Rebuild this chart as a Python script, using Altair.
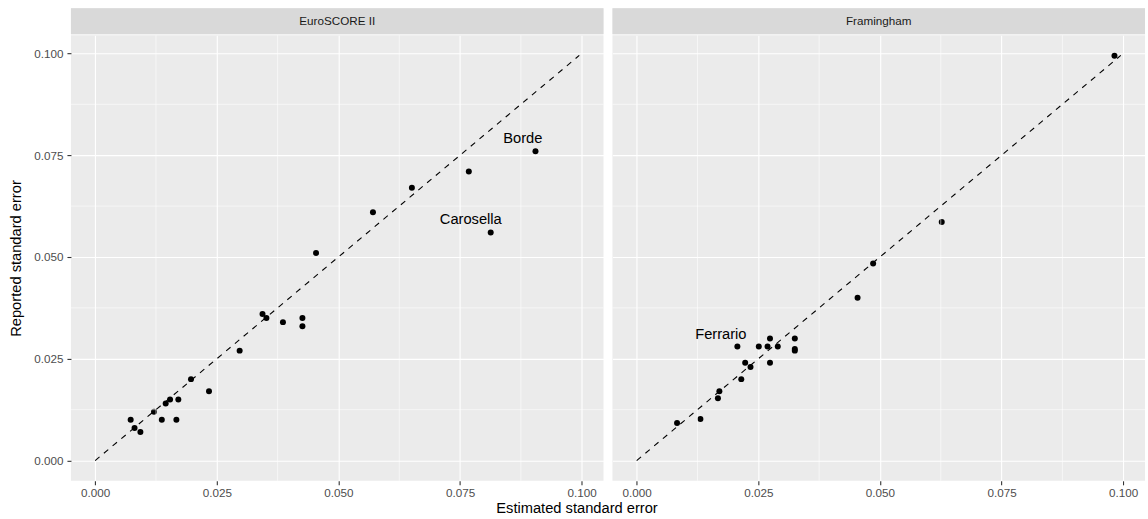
import altair as alt
import pandas as pd

# ---- data ----
euro_x = [0.0905, 0.0768, 0.0651, 0.0571, 0.0813, 0.0454,
          0.0073, 0.0081, 0.0093, 0.0121, 0.0137, 0.0145, 0.0154, 0.0171,
          0.0167, 0.0197, 0.0234, 0.0297, 0.0344, 0.0352, 0.0386, 0.0426, 0.0426]
euro_y = [0.076, 0.071, 0.067, 0.061, 0.056, 0.051,
          0.010, 0.008, 0.007, 0.012, 0.010, 0.014, 0.015, 0.015,
          0.010, 0.020, 0.017, 0.027, 0.036, 0.035, 0.034, 0.035, 0.033]

fram_x = [0.0982, 0.0627, 0.0486, 0.0454, 0.0207, 0.0251, 0.0269, 0.0274,
          0.0290, 0.0325, 0.0325, 0.0325, 0.0223, 0.0274, 0.0234, 0.0215,
          0.0170, 0.0167, 0.0083, 0.0131]
fram_y = [0.0994, 0.0586, 0.0484, 0.0400, 0.0280, 0.0280, 0.0280, 0.0300,
          0.0280, 0.0300, 0.0274, 0.0270, 0.0240, 0.0240, 0.0230, 0.0200,
          0.0170, 0.0153, 0.0092, 0.0102]

label_text = ["Borde", "Carosella", "Ferrario"]
label_panel = ["EuroSCORE II", "EuroSCORE II", "Framingham"]
label_x = [0.0879, 0.0772, 0.0173]
label_y = [0.0780, 0.0581, 0.0298]

line_x = [0.0, 0.0995]
line_y = [0.0, 0.0995]

panels = ["EuroSCORE II", "Framingham"]
major_ticks = [0.0, 0.025, 0.05, 0.075, 0.1]
minor_ticks = [0.0125, 0.0375, 0.0625, 0.0875]

# ---- styling ----
FONT = "Liberation Sans"
PW, PH, SH = 533, 446, 26
dom = [-0.004975, 0.104475]

pts = {"EuroSCORE II": pd.DataFrame({"x": euro_x, "y": euro_y}),
       "Framingham": pd.DataFrame({"x": fram_x, "y": fram_y})}
labels = pd.DataFrame({"text": label_text, "panel": label_panel,
                       "x": label_x, "y": label_y})
line_df = pd.DataFrame({"x": line_x, "y": line_y})
minor_df = pd.DataFrame({"v": minor_ticks})

xs = alt.Scale(domain=dom, nice=False, zero=False)
ys = alt.Scale(domain=dom, nice=False, zero=False)


def x_axis():
    return alt.Axis(values=major_ticks, format=".3f", title=None, domain=False,
                    grid=True, gridColor="white", gridWidth=1.1,
                    tickColor="#333333", tickSize=4, tickWidth=1.1,
                    labelColor="#4D4D4D", labelFontSize=11.7, labelFont=FONT,
                    labelPadding=3)


def y_axis(show):
    if show:
        return alt.Axis(values=major_ticks, format=".3f",
                        title="Reported standard error", domain=False,
                        grid=True, gridColor="white", gridWidth=1.1,
                        tickColor="#333333", tickSize=4, tickWidth=1.1,
                        labelColor="#4D4D4D", labelFontSize=11.7, labelFont=FONT,
                        labelPadding=4, titleFont=FONT, titleFontSize=14.7,
                        titleFontWeight="normal", titleColor="black",
                        titlePadding=10)
    return alt.Axis(values=major_ticks, title=None, domain=False, labels=False,
                    ticks=False, grid=True, gridColor="white", gridWidth=1.1)


def panel(name, show_y):
    points = alt.Chart(pts[name]).mark_circle(color="black", size=36, opacity=1).encode(
        x=alt.X("x:Q", scale=xs, axis=x_axis()),
        y=alt.Y("y:Q", scale=ys, axis=y_axis(show_y)))
    minor_x = alt.Chart(minor_df).mark_rule(color="white", strokeWidth=0.55).encode(
        x=alt.X("v:Q", scale=xs))
    minor_y = alt.Chart(minor_df).mark_rule(color="white", strokeWidth=0.55).encode(
        y=alt.Y("v:Q", scale=ys))
    line = alt.Chart(line_df).mark_line(color="black", strokeWidth=1.1,
                                        strokeDash=[5.7, 5.7]).encode(
        x=alt.X("x:Q", scale=xs),
        y=alt.Y("y:Q", scale=ys))
    txt = alt.Chart(labels[labels.panel == name]).mark_text(
        font=FONT, fontSize=14.7, color="black", align="center",
        baseline="alphabetic").encode(
        x=alt.X("x:Q", scale=xs),
        y=alt.Y("y:Q", scale=ys),
        text="text:N")
    return alt.layer(points, minor_x, minor_y, line, txt).properties(
        width=PW, height=PH)


def strip(name):
    d = pd.DataFrame({"label": [name]})
    bg = alt.Chart(d).mark_rect(color="#D9D9D9").encode(
        x=alt.value(0), x2=alt.value(PW), y=alt.value(0), y2=alt.value(SH))
    tx = alt.Chart(d).mark_text(font=FONT, fontSize=11.7, color="#1A1A1A",
                                align="center", baseline="middle").encode(
        x=alt.value(PW / 2), y=alt.value(SH / 2), text="label:N")
    return alt.layer(bg, tx).properties(width=PW, height=SH)


cols = []
for i, name in enumerate(panels):
    cols.append(alt.vconcat(strip(name), panel(name, i == 0), spacing=0))

chart = alt.hconcat(*cols, spacing=7).properties(
    title=alt.TitleParams("Estimated standard error", orient="bottom",
                          anchor="middle", font=FONT, fontSize=14.7,
                          fontWeight="normal", color="black", offset=2),
    padding={"left": 8, "top": 8, "right": 2, "bottom": 4},
).configure_view(stroke=None, fill="#EBEBEB")

chart.save("out.html", embed_options={"renderer": "svg", "actions": False})
